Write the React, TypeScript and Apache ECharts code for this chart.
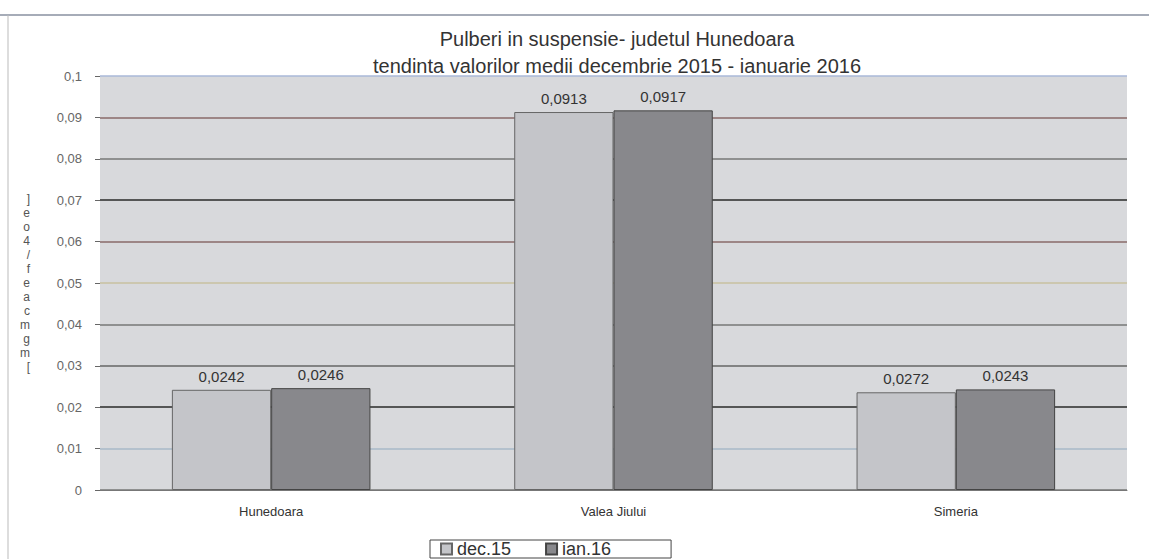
import React, { useEffect, useRef } from "react";
import * as echarts from "echarts";

const categories = ["Hunedoara", "Valea Jiului", "Simeria"];
const seriesNames = ["dec.15", "ian.16"];
const decValues = [0.0242, 0.0913, 0.0236];
const ianValues = [0.0246, 0.0917, 0.0243];
const decLabels = ["0,0242", "0,0913", "0,0272"];
const ianLabels = ["0,0246", "0,0917", "0,0243"];
const titleLines = [
  "Pulberi in suspensie- judetul Hunedoara",
  "tendinta valorilor medii decembrie 2015 - ianuarie 2016",
];
const yAxisName = ["]", "e", "o", "4", "/", "f", "e", "a", "c", "m", "g", "m", "["];

export default function App() {
  const ref = useRef<HTMLDivElement>(null);
  useEffect(() => {
    document.body.style.margin = "0";
    const chart = echarts.init(ref.current!, null, { renderer: "svg" });
    const font = "Liberation Sans, Arial, sans-serif";
    chart.setOption({
      animation: false,
      backgroundColor: "#ffffff",
      textStyle: { fontFamily: font },
      title: {
        text: titleLines.join("\n"),
        left: 612,
        textAlign: "center",
        top: 20,
        textStyle: {
          fontSize: 20,
          fontWeight: "normal",
          color: "#333",
          lineHeight: 27,
          fontFamily: font,
        },
      },
      legend: {
        bottom: 1,
        left: 430,
        icon: "rect",
        itemWidth: 11,
        itemHeight: 11,
        itemGap: 34,
        borderColor: "#444",
        borderWidth: 1,
        padding: [0, 60, 0, 10],
        textStyle: { fontSize: 18, color: "#333", fontFamily: font },
        data: seriesNames,
      },
      grid: {
        left: 100,
        right: 22,
        top: 76,
        bottom: 69,
        show: true,
        backgroundColor: "#d8d9dc",
        borderWidth: 0,
      },
      xAxis: {
        type: "category",
        data: categories,
        axisLine: { lineStyle: { color: "#777" } },
        axisTick: { show: false },
        axisLabel: { fontSize: 13, color: "#333", margin: 15, fontFamily: font },
      },
      yAxis: {
        type: "value",
        min: 0,
        max: 0.1,
        interval: 0.01,
        name: yAxisName.join("\n"),
        nameLocation: "middle",
        nameRotate: 0,
        nameGap: 70,
        nameTextStyle: { fontSize: 12, lineHeight: 14, color: "#555", fontFamily: font },
        axisLine: { show: false },
        axisTick: { show: true, length: 5, lineStyle: { color: "#666" } },
        axisLabel: {
          fontSize: 13,
          color: "#666",
          margin: 18,
          formatter: (v: number) => (Math.round(v * 100) / 100).toString().replace(".", ","),
        },
        splitLine: {
          show: true,
          lineStyle: {
            width: 1.5,
            color: [
              "#777",
              "#a8b8c8",
              "#2a2a2a",
              "#666",
              "#777",
              "#c8c0a0",
              "#8a6a6a",
              "#2a2a2a",
              "#777",
              "#8a6a6a",
              "#aab8d8",
            ],
          },
        },
      },
      series: [
        {
          name: seriesNames[0],
          type: "bar",
          data: decValues,
          barGap: "0%",
          barCategoryGap: "42%",
          itemStyle: { color: "#c4c5c9", borderColor: "#666", borderWidth: 1 },
          label: {
            show: true,
            position: "top",
            distance: 6,
            fontSize: 15,
            color: "#333",
            formatter: (p: any) => decLabels[p.dataIndex],
          },
        },
        {
          name: seriesNames[1],
          type: "bar",
          data: ianValues,
          itemStyle: { color: "#88888c", borderColor: "#444", borderWidth: 1 },
          label: {
            show: true,
            position: "top",
            distance: 6,
            fontSize: 15,
            color: "#333",
            formatter: (p: any) => ianLabels[p.dataIndex],
          },
        },
      ],
      graphic: [
        {
          type: "line",
          shape: { x1: 0, y1: 15, x2: 1149, y2: 15 },
          style: { stroke: "#8890a0", lineWidth: 1.5 },
        },
        {
          type: "line",
          shape: { x1: 8, y1: 15, x2: 8, y2: 559 },
          style: { stroke: "#bbb", lineWidth: 1 },
        },
      ],
    });
    return () => chart.dispose();
  }, []);
  return <div ref={ref} style={{ width: 1149, height: 559 }} />;
}
